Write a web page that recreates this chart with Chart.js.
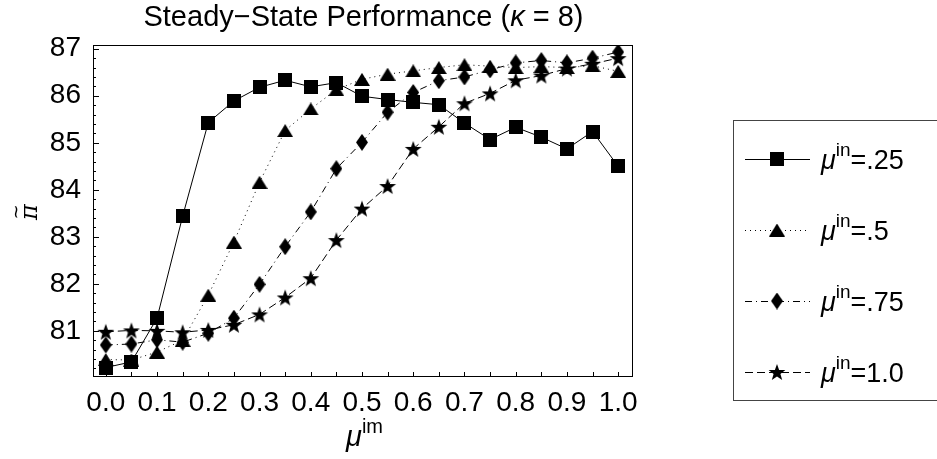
<!DOCTYPE html>
<html>
<head>
<meta charset="utf-8">
<script src="https://cdn.jsdelivr.net/npm/chart.js@4.4.0/dist/chart.umd.min.js"></script>
<style>
  html, body { margin: 0; padding: 0; background: #fff; }
  #wrap { width: 937px; height: 459px; }
</style>
</head>
<body>
<div id="wrap"><canvas id="chart"></canvas></div>
<script>
// ---------- Data ----------
const muIm = [0, 0.05, 0.1, 0.15, 0.2, 0.25, 0.3, 0.35, 0.4, 0.45, 0.5,
              0.55, 0.6, 0.65, 0.7, 0.75, 0.8, 0.85, 0.9, 0.95, 1.0];

const piIn25  = [80.22, 80.34, 81.27, 83.44, 85.43, 85.89, 86.18, 86.33, 86.19, 86.28, 85.99,
                 85.92, 85.86, 85.81, 85.42, 85.07, 85.33, 85.12, 84.87, 85.24, 84.50];
const piIn50  = [80.39, 80.38, 80.55, 80.80, 81.76, 82.89, 84.16, 85.26, 85.72, 86.13, 86.35,
                 86.46, 86.53, 86.60, 86.66, 86.63, 86.60, 86.62, 86.60, 86.64, 86.52];
const piIn75  = [80.70, 80.72, 80.81, 80.76, 80.95, 81.27, 81.99, 82.79, 83.53, 84.45, 85.01,
                 85.65, 86.07, 86.32, 86.40, 86.55, 86.70, 86.75, 86.70, 86.80, 86.93];
const piIn100 = [80.98, 81.01, 81.00, 80.97, 81.02, 81.13, 81.35, 81.71, 82.12, 82.93, 83.60,
                 84.08, 84.87, 85.34, 85.84, 86.05, 86.33, 86.43, 86.58, 86.68, 86.80];

const seriesNames = ['.25', '.5', '.75', '1.0'];
const xTickLabels = ['0.0', '0.1', '0.2', '0.3', '0.4', '0.5', '0.6', '0.7', '0.8', '0.9', '1.0'];
const yTickLabels = ['81', '82', '83', '84', '85', '86', '87'];

// ---------- Markers ----------
function makeMarker(kind) {
    const c = document.createElement('canvas');
    const dims = { square: [14, 14], triangle: [16, 13], diamond: [12, 17], star: [18, 18] }[kind];
    c.width = dims[0]; c.height = dims[1];
    const g = c.getContext('2d');
    g.fillStyle = '#000';
    g.beginPath();
    const w = c.width, h = c.height;
    if (kind === 'square') {
        g.rect(0, 0, w, h);
    } else if (kind === 'triangle') {
        g.moveTo(w / 2, 0); g.lineTo(w, h); g.lineTo(0, h);
    } else if (kind === 'diamond') {
        g.moveTo(w / 2, 0); g.lineTo(w, h / 2); g.lineTo(w / 2, h); g.lineTo(0, h / 2);
    } else {
        const R = 8.8, r = 3.6, cx = w / 2, cy = h / 2 + 0.8;
        for (let i = 0; i < 10; i++) {
            const a = -Math.PI / 2 + i * Math.PI / 5;
            const rr = i % 2 ? r : R;
            g.lineTo(cx + rr * Math.cos(a), cy + rr * Math.sin(a));
        }
    }
    g.closePath();
    g.fill();
    return c;
}
const markers = [makeMarker('square'), makeMarker('triangle'), makeMarker('diamond'), makeMarker('star')];
const dashes = [[], [1, 4], [7, 4, 1, 4], [8, 4]];
const seriesValues = [piIn25, piIn50, piIn75, piIn100];

const datasets = seriesValues.map((vals, i) => ({
    label: seriesNames[i],
    data: muIm.map((x, k) => ({ x, y: vals[k] })),
    borderColor: '#000',
    borderWidth: 1,
    borderDash: dashes[i],
    pointStyle: markers[i],
    pointRadius: 7,
    pointHoverRadius: 7,
    tension: 0,
    fill: false
}));

// ---------- Text helper ----------
function drawRich(ctx, parts, x, y, align) {
    let w = 0;
    parts.forEach(p => { ctx.font = p.font; p.w = ctx.measureText(p.t).width; w += p.w; });
    let cx = align === 'center' ? x - w / 2 : x;
    parts.forEach(p => { ctx.font = p.font; ctx.fillText(p.t, cx, y + (p.dy || 0)); cx += p.w; });
}

const FONT = '"Liberation Sans", Arial, sans-serif';

// ---------- Decorations plugin ----------
const decor = {
    id: 'decor',
    afterDatasetsDraw(chart) {
        const ctx = chart.ctx;
        const a = chart.chartArea;
        const xs = chart.scales.x, ys = chart.scales.y;
        ctx.save();
        ctx.fillStyle = '#000';
        ctx.strokeStyle = '#000';
        ctx.setLineDash([]);

        // frame
        ctx.lineWidth = 1;
        ctx.strokeRect(Math.round(a.left) + 0.5, Math.round(a.top) + 0.5,
                       Math.round(a.right - a.left), Math.round(a.bottom - a.top));

        // inner ticks
        ctx.beginPath();
        muIm.forEach(v => {
            const px = Math.round(xs.getPixelForValue(v)) + 0.5;
            ctx.moveTo(px, a.bottom); ctx.lineTo(px, a.bottom - 4);
        });
        for (let k = 1; k <= 35; k++) {
            const v = 80 + k * 0.2;
            const py = Math.round(ys.getPixelForValue(v)) + 0.5;
            const major = k % 5 === 0;
            ctx.moveTo(a.left, py); ctx.lineTo(a.left + (major ? 6 : 3), py);
        }
        ctx.stroke();

        // title
        ctx.textBaseline = 'alphabetic';
        const cxm = (a.left + a.right) / 2;
        drawRich(ctx, [
            { t: 'Steady\u2212State Performance (', font: '29px ' + FONT },
            { t: '\u03ba', font: 'italic 29px ' + FONT },
            { t: ' = 8)', font: '29px ' + FONT }
        ], cxm + 1, 26, 'center');

        // x title
        drawRich(ctx, [
            { t: '\u03bc', font: 'italic 29px ' + FONT },
            { t: 'im', font: '20px ' + FONT, dy: -13 }
        ], cxm + 2, 446, 'center');

        // y title (rotated)
        ctx.save();
        ctx.translate(29, 212);
        ctx.rotate(-Math.PI / 2);
        ctx.textAlign = 'center';
        ctx.font = 'italic 24px "DejaVu Serif", serif';
        ctx.fillText('\u03c0', 0, 8);
        ctx.font = '18px "DejaVu Sans", sans-serif';
        ctx.fillText('~', 0, -7);
        ctx.restore();

        // legend
        const bx = 733, by = 120, bh = 280;
        ctx.strokeStyle = '#444';
        ctx.strokeRect(bx + 0.5, by + 0.5, 300, bh);
        const rowY = [159, 230, 301, 372];
        seriesNames.forEach((name, i) => {
            const y = rowY[i];
            ctx.strokeStyle = '#000';
            ctx.lineWidth = 1;
            ctx.setLineDash(dashes[i]);
            ctx.beginPath();
            ctx.moveTo(745, y + 0.5); ctx.lineTo(810, y + 0.5);
            ctx.stroke();
            ctx.setLineDash([]);
            const m = markers[i];
            ctx.drawImage(m, 777 - m.width / 2, y - m.height / 2);
            drawRich(ctx, [
                { t: '\u03bc', font: 'italic 27px ' + FONT },
                { t: 'in', font: '19px ' + FONT, dy: -13 },
                { t: '=' + name, font: '27px ' + FONT }
            ], 821, y + 10, 'left');
        });
        ctx.restore();
    }
};

// ---------- Chart ----------
const ctx = document.getElementById('chart').getContext('2d');
new Chart(ctx, {
    type: 'line',
    data: { datasets },
    options: {
        responsive: true,
        maintainAspectRatio: false,
        animation: false,
        layout: { padding: { left: 0, top: 45, right: 305, bottom: 0 } },
        plugins: { legend: { display: false }, tooltip: { enabled: false }, title: { display: false } },
        scales: {
            x: {
                type: 'linear',
                min: -0.025,
                max: 1.027,
                afterFit: s => { s.height = 83; },
                afterBuildTicks: s => { s.ticks = muIm.map(v => ({ value: v })); },
                grid: { display: false, drawTicks: false },
                border: { display: false },
                ticks: {
                    autoSkip: false,
                    maxRotation: 0,
                    padding: 10,
                    color: '#000',
                    font: { family: FONT, size: 28 },
                    callback: v => {
                        const k = Math.round(v * 20);
                        return k % 2 === 0 ? xTickLabels[k / 2] : '';
                    }
                }
            },
            y: {
                type: 'linear',
                min: 80.04,
                max: 87.08,
                afterFit: s => { s.width = 93; },
                afterBuildTicks: s => { s.ticks = yTickLabels.map(t => ({ value: Number(t) })); },
                grid: { display: false, drawTicks: false },
                border: { display: false },
                ticks: {
                    padding: 12,
                    color: '#000',
                    font: { family: FONT, size: 28 },
                    callback: (v, i) => yTickLabels[i]
                }
            }
        }
    },
    plugins: [decor]
});
</script>
</body>
</html>
